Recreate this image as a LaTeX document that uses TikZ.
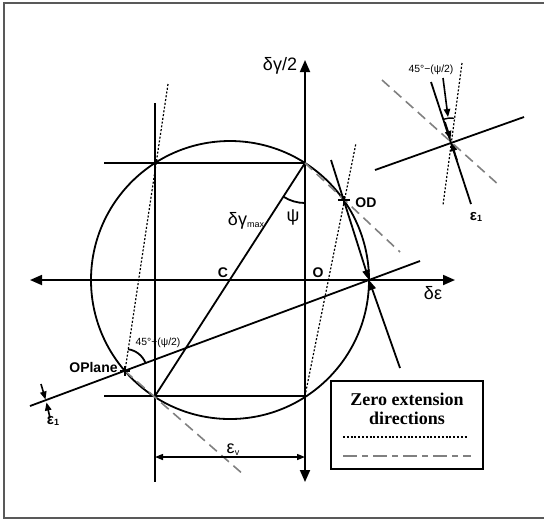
\documentclass[tikz,border=0pt]{standalone}
\usepackage{fontspec}
\setmainfont{Liberation Sans}
\newfontfamily\legendfont{Liberation Serif}
\usetikzlibrary{arrows.meta, calc}
\newcommand{\lowsub}[1]{\raisebox{-0.9pt}{\fontsize{4.5}{5}\selectfont #1}}

\begin{document}
\begin{tikzpicture}[
        x=0.5pt, y=-0.5pt,
        frame/.style={line width=0.8pt, gray!70!black},
        line/.style={line width=0.9pt, black},
        zerodot/.style={line width=0.6pt, dash pattern=on 1pt off 0.9pt},
        zerodash/.style={line width=0.8pt, gray, dash pattern=on 5pt off 3pt},
        axis/.style={line width=0.9pt, {Triangle[length=6pt,width=5pt]}-{Triangle[length=6pt,width=5pt]}},
        dim/.style={line width=0.7pt, {Triangle[length=4pt,width=3pt]}-{Triangle[length=4pt,width=3pt]}},
        tip/.style={line width=0.9pt, -{Triangle[length=5pt,width=3.6pt]}},
        small/.style={line width=0.8pt, -{Triangle[length=4pt,width=3.2pt]}},
        lbl/.style={font=\fontsize{9}{10}\selectfont, inner sep=1pt},
        pnt/.style={font=\bfseries\fontsize{7}{8}\selectfont, inner sep=1pt},
        note/.style={font=\fontsize{5.2}{6}\selectfont, inner sep=1pt},
        eps/.style={font=\bfseries\fontsize{7.5}{8}\selectfont, inner sep=1pt}
    ]
        \useasboundingbox (0,0) rectangle (544,521);
        \draw[frame] (546,3) -- (4,3) -- (4,518) -- (546,518);

        % Points of the circle
        \coordinate (C) at (230,280);
        \coordinate (O) at (305,280);
        \coordinate (R) at (369,280);
        \coordinate (tl) at (155,163);
        \coordinate (tr) at (305,163);
        \coordinate (bl) at (155,396);
        \coordinate (br) at (305,396);
        \coordinate (OD) at (344,200);
        \coordinate (OP) at (125,371);

        % Axes
        \coordinate (xl) at (30,280);
        \coordinate (xr) at (455,280);
        \coordinate (yt) at (305,60);
        \coordinate (yb) at (305,482);
        \draw[axis] (xl) -- (xr);
        \draw[axis] (yt) -- (yb);

        % Circle and square
        \draw[line] (C) circle [radius=139];
        \coordinate (tlx) at (104,163);
        \coordinate (blx) at (104,396);
        \coordinate (lt) at (155,103);
        \coordinate (lb) at (155,482);
        \draw[line] (tlx) -- (tr);
        \draw[line] (blx) -- (br);
        \draw[line] (lt) -- (lb);
        \draw[line] (bl) -- (tr);

        % Plane through OPlane
        \coordinate (pl) at (30,406);
        \coordinate (pr) at (420,261);
        \draw[line] (pl) -- (pr);

        % Zero extension directions
        \coordinate (dt) at (168,84);
        \coordinate (dr) at (356,143);
        \coordinate (gr) at (400,252);
        \coordinate (gl) at (244,475);
        \draw[zerodot] (dt) -- (OP);
        \draw[zerodot] (br) -- (dr);
        \draw[zerodash] (tr) -- (gr);
        \draw[zerodash] (OP) -- (gl);

        % Arrows to R
        \coordinate (at) at (331,160);
        \coordinate (ab) at (400,368);
        \draw[tip] (at) -- (R);
        \draw[tip] (ab) -- (R);

        % Markers
        \draw[line width=1.1pt] ($(OD)+(-6,0)$) -- ($(OD)+(6,0)$) ($(OD)+(0,-4)$) -- ($(OD)+(0,4)$);
        \draw[line width=1.1pt] ($(OP)+(-5,0)$) -- ($(OP)+(5,0)$) ($(OP)+(0,-5)$) -- ($(OP)+(0,5)$);

        % Angles
        \draw[line] ([shift={(90:40)}]tr) arc[start angle=90, end angle=122.7, radius=40];
        \draw[line] ([shift={(-81.8:22)}]OP) arc[start angle=-81.8, end angle=-20.5, radius=22];

        % Epsilon_v
        \coordinate (vl) at (155,457);
        \coordinate (vr) at (305,457);
        \draw[dim] (vl) -- (vr);

        % Epsilon_1 at left
        \coordinate (e1) at (46,401);
        \coordinate (e1a) at (41,384);
        \coordinate (e1b) at (50,418);
        \draw[small] (e1a) -- ($(e1)+(-0.5,-1.5)$);
        \draw[small] (e1b) -- ($(e1)+(0.5,1.5)$);

        % Labels
        \node[lbl] (dgl) at (280,66) {δγ/2};
        \node[lbl] (dgm) at (246,221) {δγ\lowsub{max}};
        \node[lbl] (psil) at (293,217) {ψ};
        \node[pnt] (Cl) at (223,273) {C};
        \node[pnt] (Ol) at (318,273) {O};
        \node[pnt, anchor=west] (ODl) at (353,203) {OD};
        \node[pnt, anchor=east] (OPl) at (120,367) {OPlane};
        \node[lbl] (del) at (433,293) {δε};
        \node[lbl] (evl) at (233,450) {ε\lowsub{v}};
        \node[eps] (e1l) at (53,421) {ε\lowsub{1}};
        \node[note] (a1l) at (158,343) {45°+(ψ/2)};

        % Inset
        \coordinate (X) at (451,141);
        \coordinate (s1) at (375,170);
        \coordinate (s2) at (524,117);
        \coordinate (t1) at (431,82);
        \coordinate (t2) at (471,204);
        \coordinate (g1) at (382,80);
        \coordinate (g2) at (500,186);
        \coordinate (d1) at (462,63);
        \coordinate (d2) at (443,205);
        \draw[line] (s1) -- (s2);
        \draw[line] (t1) -- (t2);
        \draw[zerodash] (g1) -- (g2);
        \draw[zerodot] (d1) -- (d2);
        \draw[line width=0.7pt] ([shift={(-108.7:23)}]X) arc[start angle=-108.7, end angle=-82, radius=23];
        \coordinate (n1) at (443,78);
        \coordinate (n2) at (448,117);
        \draw[small] (n1) -- (n2);
        \coordinate (xa) at (445,122);
        \coordinate (xb) at (457,160);
        \draw[small] (xa) -- ($(X)+(-0.5,-2)$);
        \draw[small] (xb) -- ($(X)+(0.5,2)$);
        \node[note] (a2l) at (431,70) {45°−(ψ/2)};
        \node[eps] (e2l) at (476,217) {ε\lowsub{1}};

        % Legend
        \node[draw, line width=0.9pt, minimum width=76pt, minimum height=44pt] (leg) at (407,425) {};
        \node[font=\legendfont\bfseries\fontsize{9}{9.5}\selectfont, align=center, anchor=north] (legt) at ($(leg.north)+(0,6)$) {Zero extension\\directions};
        \coordinate (ld1) at (343,437);
        \coordinate (ld2) at (468,437);
        \coordinate (lg1) at (343,456);
        \coordinate (lg2) at (471,456);
        \draw[zerodot] (ld1) -- (ld2);
        \draw[line width=0.8pt, gray, dash pattern=on 7pt off 2.5pt on 3pt off 2.5pt] (lg1) -- (lg2);
    \end{tikzpicture}
\end{document}
